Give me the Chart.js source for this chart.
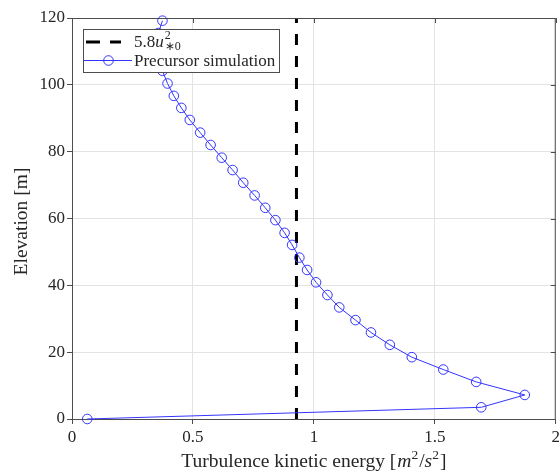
<!DOCTYPE html>
<html>
<head>
<meta charset="utf-8">
<script src="https://cdn.jsdelivr.net/npm/chart.js@4"></script>
<style>
  body { margin: 0; background: #fff; overflow: hidden; }
  #wrap { width: 559px; height: 473px; overflow: hidden; }
  canvas { display: block; }
</style>
</head>
<body>
<!-- canvas is a few px wider than the frame so the last x label hangs off the edge -->
<div id="wrap"><canvas id="tke" width="563" height="473"></canvas></div>
<script>
// Precursor TKE profile
const elevation = [0, 3.5, 7.2, 11.1, 14.8, 18.5, 22.2, 25.9, 29.6, 33.4, 37.1, 40.9, 44.6,
  48.3, 52.1, 55.7, 59.5, 63.2, 66.9, 70.7, 74.5, 78.2, 82.0, 85.7, 89.5, 93.1, 96.7,
  100.4, 104.2, 108.0, 111.8, 115.5, 119.2];
const tke = [0.063, 1.692, 1.872, 1.671, 1.535, 1.405, 1.314, 1.236, 1.172, 1.105, 1.056,
  1.009, 0.972, 0.940, 0.910, 0.879, 0.841, 0.799, 0.755, 0.708, 0.664, 0.619, 0.573,
  0.530, 0.487, 0.452, 0.421, 0.395, 0.374, 0.366, 0.360, 0.357, 0.374];

// 5.8 u*0^2 with u*0 = 0.4
const refTke = 0.928;
const refElevation = [0, 120];

const xTicks = [0, 0.5, 1, 1.5, 2];
const yTicks = [0, 20, 40, 60, 80, 100, 120];

const FONT = '"Liberation Serif", "Times New Roman", serif';
const INK = '#262626';
const AXIS = '#4d4d4d';
const BLUE = '#3434ff';

// draws text runs (regular / italic / raised / lowered) one after another
function runs(ctx, parts, x, y, align) {
  let total = 0;
  parts.forEach(p => { ctx.font = p.font; p.w = ctx.measureText(p.t).width; total += p.w + (p.gap || 0); });
  let cx = align === 'center' ? x - total / 2 : x;
  parts.forEach(p => {
    ctx.font = p.font;
    ctx.fillText(p.t, cx, y + (p.dy || 0));
    if (!p.stack) cx += p.w + (p.gap || 0);
  });
}

const frame = {
  id: 'frame',
  afterDatasetsDraw(chart) {
    const { ctx, chartArea: a, scales: { x, y } } = chart;
    ctx.save();

    // top and right box with inward ticks
    ctx.strokeStyle = AXIS;
    ctx.lineWidth = 1;
    ctx.beginPath();
    ctx.moveTo(a.left, a.top + 0.5);
    ctx.lineTo(a.right - 0.5, a.top + 0.5);
    ctx.lineTo(a.right - 0.5, a.bottom);
    xTicks.forEach(v => {
      const px = Math.round(x.getPixelForValue(v)) + 0.5;
      ctx.moveTo(px, a.top);
      ctx.lineTo(px, a.top + 5);
    });
    yTicks.forEach(v => {
      const py = Math.round(y.getPixelForValue(v)) + 0.5;
      ctx.moveTo(a.right, py);
      ctx.lineTo(a.right - 5, py);
    });
    ctx.stroke();

    // legend
    const bx = 83.5, by = 29.5, bw = 196, bh = 43;
    ctx.fillStyle = '#fff';
    ctx.fillRect(bx, by, bw, bh);
    ctx.strokeStyle = AXIS;
    ctx.lineWidth = 1;
    ctx.strokeRect(bx, by, bw, bh);

    ctx.strokeStyle = '#000';
    ctx.lineWidth = 3;
    ctx.setLineDash([14, 10]);
    ctx.beginPath();
    ctx.moveTo(86, 42);
    ctx.lineTo(121, 42);
    ctx.stroke();
    ctx.setLineDash([]);

    ctx.strokeStyle = BLUE;
    ctx.lineWidth = 1;
    ctx.beginPath();
    ctx.moveTo(84, 60.5);
    ctx.lineTo(132, 60.5);
    ctx.stroke();
    ctx.beginPath();
    ctx.arc(108.5, 60.5, 4.8, 0, Math.PI * 2);
    ctx.stroke();

    ctx.fillStyle = INK;
    ctx.textBaseline = 'alphabetic';
    ctx.textAlign = 'left';
    runs(ctx, [
      { t: '5.8', font: '17px ' + FONT },
      { t: 'u', font: 'italic 17px ' + FONT, gap: 1 },
      { t: '2', font: '12px ' + FONT, dy: -8, stack: true },
      { t: '\u22170', font: '12px ' + FONT, dy: 3 }
    ], 134, 47, 'left');
    ctx.font = '17px ' + FONT;
    ctx.fillText('Precursor simulation', 134, 66);

    ctx.restore();
  },
  afterDraw(chart) {
    const { ctx, chartArea: a } = chart;
    ctx.save();
    ctx.fillStyle = INK;
    ctx.textBaseline = 'alphabetic';
    ctx.textAlign = 'left';
    const f = '19.5px ' + FONT, fi = 'italic 19.5px ' + FONT, fs = '13.5px ' + FONT;
    runs(ctx, [
      { t: 'Turbulence kinetic energy [', font: f, gap: 1 },
      { t: 'm', font: fi },
      { t: '2', font: fs, dy: -8, gap: 1 },
      { t: '/', font: f },
      { t: 's', font: fi },
      { t: '2', font: fs, dy: -8, gap: 1 },
      { t: ']', font: f }
    ], (a.left + a.right) / 2, 467, 'center');

    ctx.translate(22, (a.top + a.bottom) / 2 + 3);
    ctx.rotate(-Math.PI / 2);
    ctx.textAlign = 'center';
    ctx.textBaseline = 'middle';
    ctx.font = f;
    ctx.fillText('Elevation [m]', 0, 0);
    ctx.restore();
  }
};

new Chart(document.getElementById('tke'), {
  type: 'scatter',
  data: {
    datasets: [
      {
        label: '5.8u*0^2',
        data: refElevation.map(e => ({ x: refTke, y: e })),
        showLine: true,
        borderColor: '#000',
        borderWidth: 3,
        borderDash: [11, 11],
        pointRadius: 0,
        order: 1
      },
      {
        label: 'Precursor simulation',
        data: elevation.map((e, i) => ({ x: tke[i], y: e })),
        showLine: true,
        borderColor: BLUE,
        borderWidth: 1,
        pointStyle: 'circle',
        pointRadius: 4.8,
        pointBorderWidth: 1,
        pointBorderColor: BLUE,
        pointBackgroundColor: 'rgba(0,0,0,0)',
        clip: false,
        order: 0
      }
    ]
  },
  options: {
    responsive: false,
    animation: false,
    layout: { padding: { top: 18, right: 2, left: 0, bottom: 0 } },
    scales: {
      x: {
        type: 'linear',
        min: 0,
        max: 2,
        afterFit: s => { s.height = 54; },
        afterBuildTicks: s => { s.ticks = xTicks.map(v => ({ value: v })); },
        ticks: {
          padding: 3,
          color: INK,
          font: { family: FONT, size: 17 },
          maxRotation: 0,
          callback: v => String(v)
        },
        grid: { color: '#e3e3e3', tickColor: AXIS, tickLength: 5 },
        border: { color: AXIS, width: 1 }
      },
      y: {
        type: 'linear',
        min: 0,
        max: 120,
        afterFit: s => { s.width = 72; s.paddingTop = 0; s.paddingBottom = 0; },
        afterBuildTicks: s => { s.ticks = yTicks.map(v => ({ value: v })); },
        ticks: {
          padding: 2,
          color: INK,
          font: { family: FONT, size: 17 },
          callback: v => String(v)
        },
        grid: { color: '#e3e3e3', tickColor: AXIS, tickLength: 5 },
        border: { color: AXIS, width: 1 }
      }
    },
    plugins: {
      legend: { display: false },
      tooltip: { enabled: false }
    }
  },
  plugins: [frame]
});
</script>
</body>
</html>
